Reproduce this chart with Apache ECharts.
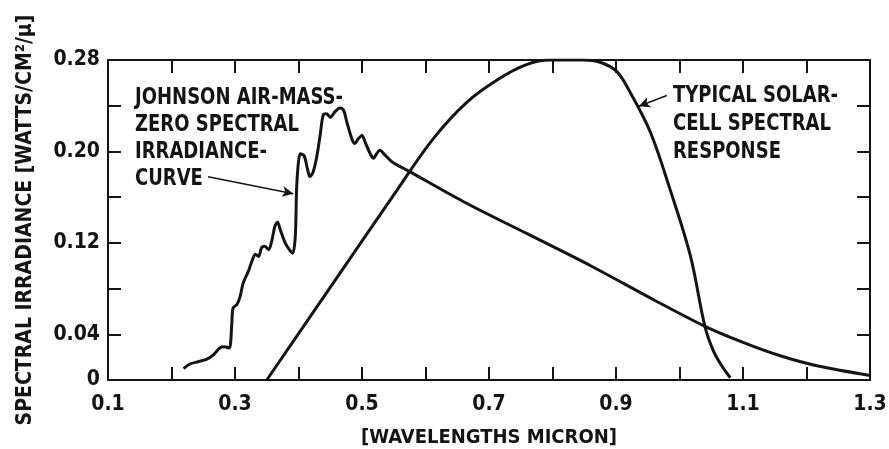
<!DOCTYPE html>
<html>
<head>
<meta charset="utf-8">
<script src="https://cdn.jsdelivr.net/npm/echarts@6/dist/echarts.min.js"></script>
<style>
  html, body { margin: 0; padding: 0; background: #fff; }
  #chart { width: 889px; height: 449px; }
</style>
</head>
<body>
<div id="chart"></div>
<script>
// Johnson air-mass-zero spectral irradiance curve
const johnsonWl = [0.219, 0.229, 0.242, 0.255, 0.266, 0.276, 0.284, 0.291, 0.293, 0.295,
  0.297, 0.303, 0.308, 0.313, 0.321, 0.326, 0.332, 0.337, 0.342, 0.347,
  0.353, 0.358, 0.363, 0.367, 0.371, 0.379, 0.387, 0.391, 0.395, 0.397,
  0.400, 0.403, 0.409, 0.414, 0.418, 0.423, 0.429, 0.434, 0.439, 0.444,
  0.450, 0.458, 0.465, 0.471, 0.476, 0.484, 0.489, 0.494, 0.500, 0.505,
  0.513, 0.518, 0.523, 0.528, 0.536, 0.547, 0.573, 0.660, 0.760, 0.860,
  0.960, 1.040, 1.100, 1.160, 1.220, 1.300];
const johnsonIrr = [0.010, 0.014, 0.016, 0.018, 0.022, 0.028, 0.029, 0.028, 0.032, 0.050,
  0.063, 0.066, 0.073, 0.085, 0.095, 0.103, 0.110, 0.108, 0.116, 0.117,
  0.114, 0.122, 0.135, 0.138, 0.132, 0.120, 0.113, 0.111, 0.126, 0.167,
  0.191, 0.198, 0.196, 0.185, 0.178, 0.182, 0.196, 0.214, 0.232, 0.233,
  0.230, 0.235, 0.238, 0.236, 0.226, 0.211, 0.207, 0.211, 0.214, 0.208,
  0.198, 0.194, 0.198, 0.201, 0.197, 0.191, 0.183, 0.156, 0.128, 0.100,
  0.070, 0.047, 0.033, 0.021, 0.012, 0.004];

// typical solar-cell spectral response
const cellWl = [0.350, 0.450, 0.550, 0.612, 0.665, 0.717, 0.759, 0.796, 0.848, 0.875,
  0.901, 0.922, 0.954, 0.985, 1.017, 1.040, 1.053, 1.067, 1.080];
const cellResp = [0.000, 0.081, 0.162, 0.211, 0.243, 0.264, 0.276, 0.280, 0.280, 0.278,
  0.270, 0.252, 0.217, 0.167, 0.109, 0.047, 0.026, 0.012, 0.002];

const xTicks = [0.1, 0.3, 0.5, 0.7, 0.9, 1.1, 1.3];
const yTicks = [0, 0.04, 0.12, 0.20, 0.28];

const FONT = "'DejaVu Sans Condensed', 'DejaVu Sans', sans-serif";
const INK = '#141414';

const zip = (a, b) => a.map((v, i) => [v, b[i]]);

const chart = echarts.init(document.getElementById('chart'));

const baseX = {
  type: 'value', min: 0.1, max: 1.3, interval: 0.1,
  axisLine: { show: true, onZero: false, lineStyle: { color: INK, width: 2 } },
  axisTick: { show: true, inside: true, length: 13, lineStyle: { color: INK, width: 2 } },
  splitLine: { show: false }
};
const baseY = {
  type: 'value', min: 0, max: 0.28, interval: 0.04,
  axisLine: { show: true, onZero: false, lineStyle: { color: INK, width: 2 } },
  axisTick: { show: true, inside: true, length: 13, lineStyle: { color: INK, width: 2 } },
  splitLine: { show: false }
};

chart.setOption({
  backgroundColor: '#fff',
  animation: false,
  grid: { left: 108, right: 19, top: 60, bottom: 69, outerBoundsMode: 'none', containLabel: false },
  xAxis: [
    Object.assign({}, baseX, {
      position: 'bottom',
      name: '[WAVELENGTHS MICRON]',
      nameLocation: 'middle',
      nameGap: 48,
      nameTextStyle: { fontFamily: FONT, fontWeight: 'bold', fontSize: 20, color: INK },
      axisLabel: {
        margin: 14, fontFamily: FONT, fontWeight: 'bold', fontSize: 21, color: INK,
        formatter: v => xTicks.some(t => Math.abs(t - v) < 1e-6) ? v.toFixed(1) : ''
      }
    }),
    Object.assign({}, baseX, { position: 'top', axisLabel: { show: false } })
  ],
  yAxis: [
    Object.assign({}, baseY, {
      position: 'left',
      name: 'SPECTRAL IRRADIANCE [WATTS/CM\u00b2/\u03bc]',
      nameLocation: 'middle',
      nameGap: 72,
      nameTextStyle: { fontFamily: FONT, fontWeight: 'bold', fontSize: 21, color: INK },
      axisLabel: {
        margin: 8, fontFamily: FONT, fontWeight: 'bold', fontSize: 21, color: INK,
        formatter: v => {
          if (!yTicks.some(t => Math.abs(t - v) < 1e-6)) return '';
          return v === 0 ? '0' : v.toFixed(2);
        }
      }
    }),
    Object.assign({}, baseY, { position: 'right', axisLabel: { show: false } })
  ],
  series: [
    {
      name: 'Johnson', type: 'line', smooth: 0.3, showSymbol: false,
      data: zip(johnsonWl, johnsonIrr),
      lineStyle: { color: INK, width: 3 },
      markLine: {
        silent: true, symbol: ['none', 'arrow'], symbolSize: [8, 11],
        label: { show: false },
        lineStyle: { color: INK, width: 1.5, type: 'solid' },
        data: [[{ coord: [0.2575, 0.1778] }, { coord: [0.392, 0.163] }]]
      }
    },
    {
      name: 'Solar cell', type: 'line', smooth: 0.35, showSymbol: false,
      data: zip(cellWl, cellResp),
      lineStyle: { color: INK, width: 3 },
      markLine: {
        silent: true, symbol: ['none', 'arrow'], symbolSize: [8, 11],
        label: { show: false },
        lineStyle: { color: INK, width: 1.5, type: 'solid' },
        data: [[{ coord: [0.980, 0.249] }, { coord: [0.936, 0.2395] }]]
      }
    }
  ],
  graphic: [
    {
      type: 'text', x: 135, y: 85, scaleX: 0.87,
      style: {
        text: 'JOHNSON AIR-MASS-\nZERO SPECTRAL\nIRRADIANCE-\nCURVE',
        font: 'bold 23px ' + FONT, lineHeight: 27, fill: INK
      }
    },
    {
      type: 'text', x: 673, y: 82, scaleX: 0.87,
      style: {
        text: 'TYPICAL SOLAR-\nCELL SPECTRAL\nRESPONSE',
        font: 'bold 23px ' + FONT, lineHeight: 28, fill: INK
      }
    }
  ]
});
</script>
</body>
</html>
